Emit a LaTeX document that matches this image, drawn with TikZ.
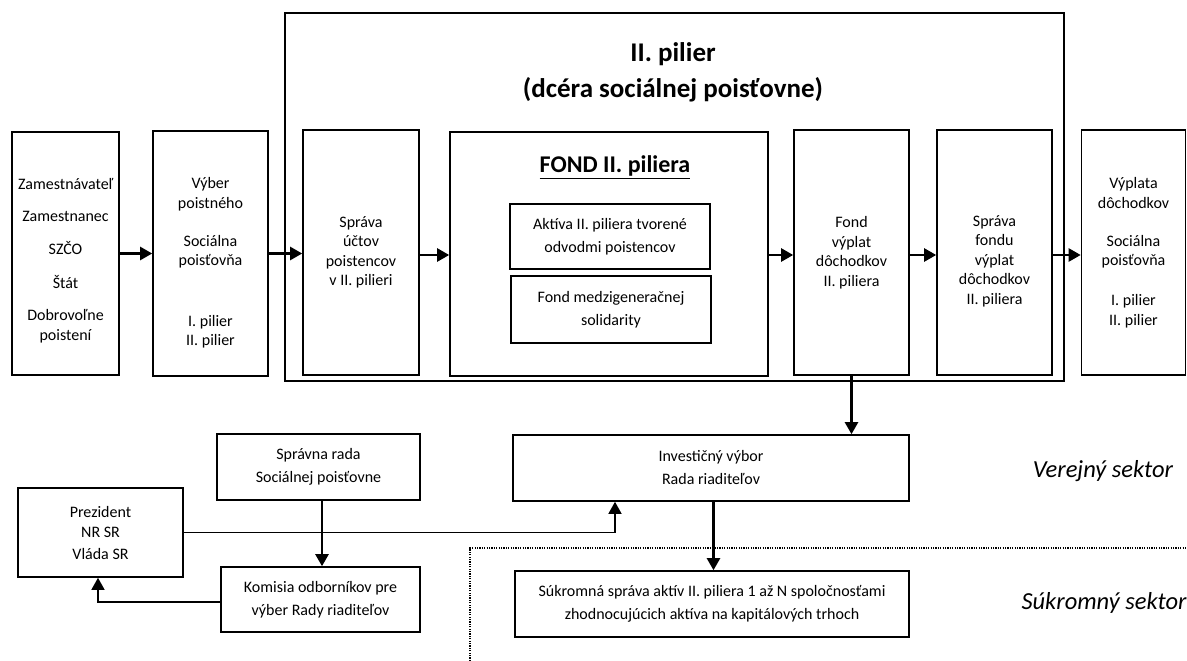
\documentclass[tikz,border=0pt]{standalone}
\usepackage{fontspec}
\setmainfont{Carlito}
\usetikzlibrary{arrows.meta,calc}
\tikzset{
  box/.style={draw, line width=1.6pt, inner sep=0pt, align=center, font=\fontsize{16}{19.5}\selectfont},
  boxtext/.style={inner sep=0pt, align=center, font=\fontsize{16}{19.5}\selectfont},
  lowbox/.style={box, font=\fontsize{16}{23}\selectfont},
  flow/.style={line width=2.4pt, -{Triangle[length=12pt,width=13pt]}},
  link/.style={line width=1.4pt, -{Triangle[length=12pt,width=13pt]}},
  sector/.style={font=\fontsize{24.5}{29}\selectfont\itshape},
  divider/.style={line width=1.2pt, dash pattern=on 1.2pt off 1.2pt}
}
\begin{document}
\begin{tikzpicture}[x=1pt,y=-1pt]
\useasboundingbox (0,0) rectangle (1187,661);

% outer frame of II. pilier
\node[box, minimum width=779pt, minimum height=368pt] (outer) at (674.5,197) {};
\node[font=\fontsize{27}{36}\selectfont\bfseries, align=center] (title) at (673,72) {II. pilier\\(dcéra sociálnej poisťovne)};

% top row
\node[box, minimum width=107pt, minimum height=243pt] (b1) at (65.5,253.5) {};
\node[boxtext] (b1t) at (65.5,260.5)
  {Zamestnávateľ\\[13pt]Zamestnanec\\[13.5pt]SZČO\\[14pt]Štát\\[13pt]Dobrovoľne\\poistení};
\node[box, minimum width=115pt, minimum height=245pt] (b2) at (210.5,253.5) {};
\node[boxtext] (b2t) at (210.5,263)
  {Výber\\poistného\\[18.5pt]Sociálna\\poisťovňa\\[41pt]I. pilier\\II. pilier};
\node[box, minimum width=116pt, minimum height=245pt] (b3) at (361,252.5)
  {Správa\\účtov\\poistencov\\v II. pilieri};
\node[box, minimum width=318pt, minimum height=244pt] (fond) at (609,254) {};
\node[font=\fontsize{24}{28}\selectfont\bfseries] (fondt) at (615,167) {\underline{FOND II. piliera}};
\node[box, font=\fontsize{16}{23}\selectfont, minimum width=200pt, minimum height=65pt] (aktiva) at (610,236.5)
  {Aktíva II. piliera tvorené\\odvodmi poistencov};
\node[box, font=\fontsize{16}{23}\selectfont, minimum width=200pt, minimum height=67pt] (medzi) at (611,309.5)
  {Fond medzigeneračnej\\solidarity};
\node[box, minimum width=115pt, minimum height=245pt] (b4) at (851.5,252.5)
  {Fond\\výplat\\dôchodkov\\II. piliera};
\node[box, minimum width=115pt, minimum height=245pt] (b5) at (994.5,252.5) {};
\node[boxtext] (b5t) at (994.5,261)
  {Správa\\fondu\\výplat\\dôchodkov\\II. piliera};
\node[box, minimum width=104pt, minimum height=245pt] (b6) at (1133.5,252.5)
  {Výplata\\dôchodkov\\[18.5pt]Sociálna\\poisťovňa\\[20.5pt]I. pilier\\II. pilier};

% lower part
\node[lowbox, minimum width=203pt, minimum height=66pt] (spr) at (318.5,467)
  {Správna rada\\Sociálnej poisťovne};
\node[box, font=\fontsize{16}{21}\selectfont, minimum width=165pt, minimum height=89pt] (prez) at (100.5,532.5)
  {Prezident\\NR SR\\Vláda SR};
\node[lowbox, minimum width=199pt, minimum height=65pt] (kom) at (320.5,599.5)
  {Komisia odborníkov pre\\výber Rady riaditeľov};
\node[lowbox, minimum width=396pt, minimum height=66pt] (inv) at (711,468)
  {Investičný výbor\\Rada riaditeľov};
\node[lowbox, minimum width=394pt, minimum height=66pt] (suk) at (712,604)
  {Súkromná správa aktív II. piliera 1 až N spoločnosťami\\zhodnocujúcich aktíva na kapitálových trhoch};

\node[sector] (verejny) at (1103,471) {Verejný sektor};
\node[sector] (sukromny) at (1104,603) {Súkromný sektor};

% dotted divider
\coordinate (dvb) at (470,661);
\coordinate (dvc) at (470,548);
\coordinate (dvr) at (1187,548);
\draw[divider] (dvb) -- (dvc) -- (dvr);

% flow arrows
\draw[flow] (b1.east) -- (b1.east -| b2.west);
\draw[flow] (b2.east) -- (b2.east -| b3.west);
\draw[flow] ([yshift=-2.5pt]b3.east) -- ([yshift=-2.5pt]b3.east -| fond.west);
\draw[flow] ([yshift=-1pt]fond.east) -- ([yshift=-1pt]fond.east -| b4.west);
\draw[flow] ([yshift=-2.5pt]b4.east) -- ([yshift=-2.5pt]b4.east -| b5.west);
\draw[flow] ([yshift=-2.5pt]b5.east) -- ([yshift=-2.5pt]b5.east -| b6.west);
\draw[flow] (b4.south) -- (b4.south |- inv.north);
\draw[flow] ([xshift=3.5pt]spr.south) -- ([xshift=3.5pt]spr.south |- kom.north);
\draw[flow] ([xshift=2.5pt]inv.south) -- ([xshift=2.5pt]inv.south |- suk.north);

% thin connectors
\draw[link] (prez.east) -| ([xshift=-96pt]inv.south);
\draw[link] ([yshift=-2.5pt]kom.west) -| ([xshift=-2.5pt]prez.south);
\end{tikzpicture}
\end{document}
